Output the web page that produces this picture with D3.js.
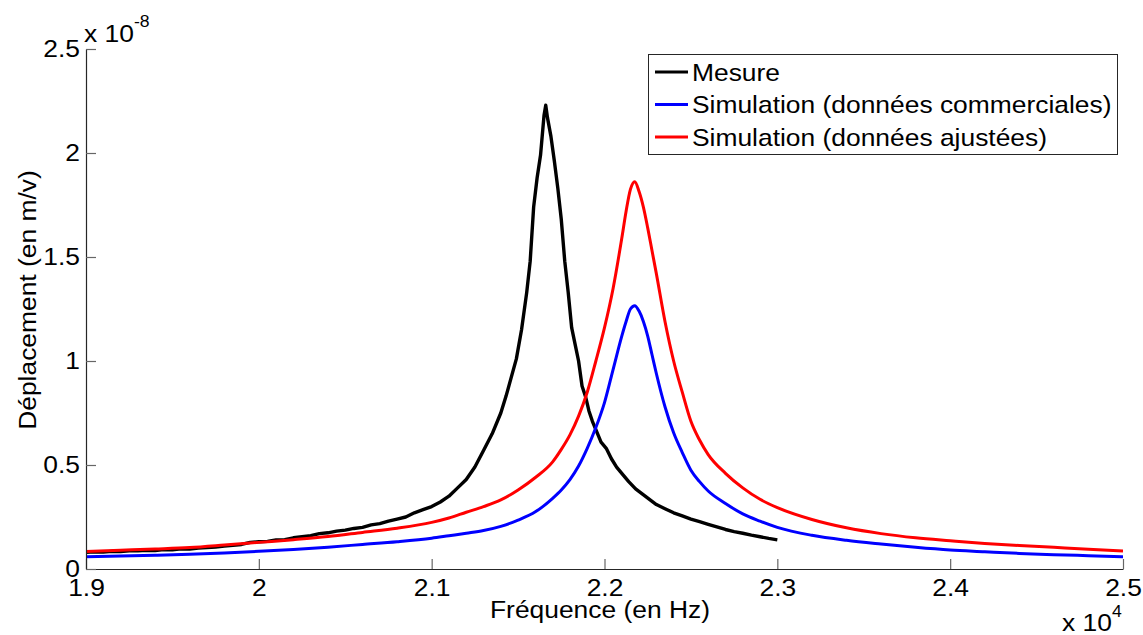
<!DOCTYPE html>
<html>
<head>
<meta charset="utf-8">
<script src="https://cdn.jsdelivr.net/npm/d3@7/dist/d3.min.js"></script>
<style>
  html, body { margin: 0; padding: 0; background: #fff; }
  svg { display: block; }
  text { font-family: "Liberation Sans", Arial, sans-serif; fill: #000; }
</style>
</head>
<body>
<svg id="chart" width="1143" height="635"></svg>
<script>
// ---- Data (frequency in units of 1e4 Hz, displacement in units of 1e-8 m/V) ----
const mesureFreq = [1.900,1.905,1.910,1.915,1.920,1.925,1.930,1.935,1.940,1.945,1.950,1.955,1.960,1.965,1.970,1.975,1.980,1.985,1.990,1.995,
  2.000,2.005,2.010,2.015,2.020,2.025,2.030,2.035,2.040,2.045,2.050,2.055,2.060,2.065,2.070,2.075,2.080,2.085,2.090,2.095,
  2.100,2.105,2.110,2.115,2.120,2.125,2.130,2.135,2.140,2.143,2.146,2.149,2.152,2.155,2.157,2.159,2.161,2.163,2.165,2.166,
  2.167,2.169,2.171,2.173,2.175,2.177,2.179,2.181,2.183,2.185,2.187,2.189,2.191,2.193,2.195,2.198,2.201,2.204,2.207,2.210,
  2.214,2.218,2.222,2.226,2.230,2.235,2.240,2.245,2.250,2.255,2.260,2.265,2.270,2.275,2.280,2.285,2.290,2.295,2.300];
const mesureVal = [0.080,0.083,0.081,0.085,0.084,0.088,0.087,0.090,0.089,0.093,0.092,0.097,0.096,0.101,0.103,0.106,0.110,0.114,0.118,0.128,
  0.131,0.133,0.140,0.141,0.150,0.155,0.160,0.170,0.174,0.182,0.187,0.195,0.200,0.212,0.218,0.230,0.240,0.250,0.270,0.285,
  0.300,0.322,0.350,0.390,0.430,0.490,0.570,0.650,0.750,0.830,0.920,1.010,1.150,1.330,1.480,1.740,1.880,1.990,2.180,2.230,
  2.170,2.080,1.960,1.830,1.680,1.480,1.330,1.160,1.080,1.000,0.880,0.830,0.760,0.710,0.670,0.610,0.580,0.530,0.490,0.460,
  0.420,0.385,0.360,0.335,0.310,0.290,0.270,0.255,0.240,0.228,0.215,0.203,0.190,0.180,0.172,0.163,0.155,0.147,0.140];

const simFreq = [1.90,1.92,1.94,1.96,1.98,2.00,2.02,2.04,2.06,2.08,2.10,2.11,2.12,2.13,2.14,2.15,2.16,2.17,2.175,2.18,
  2.185,2.19,2.195,2.20,2.205,2.21,2.2125,2.215,2.2175,2.22,2.2225,2.225,2.2275,2.23,2.235,2.24,2.245,2.25,2.255,2.26,
  2.27,2.28,2.29,2.30,2.32,2.34,2.36,2.38,2.40,2.42,2.44,2.46,2.48,2.50];
const simCommerciales = [0.059,0.062,0.066,0.071,0.077,0.085,0.094,0.105,0.118,0.131,0.148,0.160,0.172,0.185,0.205,0.235,0.275,0.340,0.380,0.430,
  0.495,0.580,0.680,0.800,0.960,1.120,1.190,1.250,1.266,1.240,1.190,1.120,1.030,0.940,0.780,0.655,0.560,0.475,0.420,0.375,
  0.315,0.265,0.230,0.200,0.162,0.138,0.120,0.104,0.091,0.083,0.075,0.069,0.064,0.059];
const simAjustees = [0.084,0.090,0.096,0.103,0.115,0.128,0.141,0.156,0.176,0.196,0.224,0.245,0.273,0.300,0.332,0.380,0.440,0.515,0.575,0.645,
  0.735,0.850,1.000,1.160,1.350,1.590,1.720,1.825,1.862,1.815,1.740,1.640,1.530,1.420,1.190,1.000,0.850,0.710,0.620,0.550,
  0.460,0.390,0.335,0.295,0.238,0.198,0.170,0.150,0.136,0.123,0.113,0.104,0.095,0.087];

const xTicks = [1.9, 2, 2.1, 2.2, 2.3, 2.4, 2.5];
const yTicks = [0, 0.5, 1, 1.5, 2, 2.5];
const seriesNames = ["Mesure", "Simulation (données commerciales)", "Simulation (données ajustées)"];
const seriesColors = ["#000000", "#0000ff", "#ff0000"];

// ---- Layout ----
const svg = d3.select("#chart");
const L = 86, R = 1123, T = 49, B = 569;
const x = d3.scaleLinear().domain([1.9, 2.5]).range([L, R]);
const y = d3.scaleLinear().domain([0, 2.5]).range([B, T]);
const FS = 24;
const SX = 1.1; // horizontal stretch of the glyphs, as in the reference

function wideText(parent, xPos, yPos, anchor) {
  return parent.append("text")
    .attr("x", 0).attr("y", 0)
    .attr("text-anchor", anchor || "start")
    .attr("font-size", FS)
    .attr("transform", `translate(${xPos},${yPos}) scale(${SX},1)`);
}

svg.append("defs").append("clipPath").attr("id", "plotclip")
  .append("rect").attr("x", L).attr("y", T - 2).attr("width", R - L + 2).attr("height", B - T + 2);

// curves (drawn first so axes and labels sit on top)
const datasets = [
  d3.zip(mesureFreq, mesureVal),
  d3.zip(simFreq, simCommerciales),
  d3.zip(simFreq, simAjustees)
];
const curvesG = svg.append("g").attr("clip-path", "url(#plotclip)");
datasets.forEach((ds, i) => {
  const gen = d3.line().x(d => x(d[0])).y(d => y(d[1]))
    .curve(i === 0 ? d3.curveLinear : d3.curveMonotoneX);
  curvesG.append("path").datum(ds)
    .attr("d", gen)
    .attr("fill", "none").attr("stroke", seriesColors[i]).attr("stroke-width", i === 0 ? 3.4 : 3)
    .attr("stroke-linejoin", "round");
});

// axes
const xAxis = svg.append("g").attr("transform", `translate(0,${B})`)
  .call(d3.axisBottom(x).tickValues(xTicks).tickFormat(d3.format("")).tickSizeInner(-10).tickSizeOuter(0).tickPadding(10));
const yAxis = svg.append("g").attr("transform", `translate(${L},0)`)
  .call(d3.axisLeft(y).tickValues(yTicks).tickFormat(d3.format("")).tickSizeInner(-10).tickSizeOuter(0).tickPadding(6));
[xAxis, yAxis].forEach(g => {
  g.select(".domain").attr("stroke", "#262626").attr("stroke-width", 1.2);
  g.selectAll(".tick line").attr("stroke", "#666").attr("stroke-width", 1.2);
  g.selectAll(".tick text").attr("font-size", FS).attr("font-family", "Liberation Sans, Arial, sans-serif").attr("fill", "#000");
});
xAxis.selectAll(".tick text").attr("dy", "0.72em").attr("transform", `scale(${SX},1)`);
yAxis.selectAll(".tick text").attr("transform", `scale(${SX},1)`).attr("x", -6 / SX);

// exponent labels
const expTop = wideText(svg, 84, 42);
expTop.append("tspan").text("x 10");
expTop.append("tspan").attr("font-size", 16).attr("dy", -15).text("-8");
const expBot = wideText(svg, 1062, 631);
expBot.append("tspan").text("x 10");
expBot.append("tspan").attr("font-size", 16).attr("dy", -14).text("4");

// axis titles
wideText(svg, 600, 618, "middle").text("Fréquence (en Hz)");
svg.append("text").attr("transform", `translate(36,300) rotate(-90) scale(${SX},1)`).attr("text-anchor", "middle")
  .attr("font-size", FS).text("Déplacement (en m/v)");

// legend
const lg = svg.append("g");
lg.append("rect").attr("x", 648.5).attr("y", 54.5).attr("width", 469).attr("height", 100)
  .attr("fill", "#fff").attr("stroke", "#262626").attr("stroke-width", 1);
seriesNames.forEach((name, i) => {
  const cy = 72 + i * 32.5;
  lg.append("line").attr("x1", 655).attr("x2", 688).attr("y1", cy).attr("y2", cy)
    .attr("stroke", seriesColors[i]).attr("stroke-width", 3);
  wideText(lg, 692, cy).attr("dy", "0.36em").text(name);
});
</script>
</body>
</html>
